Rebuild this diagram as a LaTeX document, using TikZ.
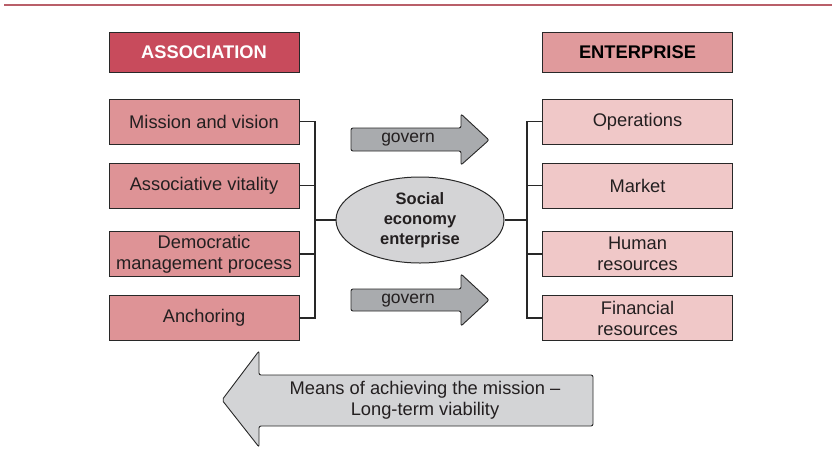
\documentclass[tikz,border=0pt]{standalone}
\usepackage{fontspec}
\setmainfont{Liberation Sans}
\usetikzlibrary{shapes.geometric}
\definecolor{topline}{RGB}{185,95,105}
\definecolor{assochead}{RGB}{200,75,92}
\definecolor{enthead}{RGB}{224,154,156}
\definecolor{leftfill}{RGB}{222,147,150}
\definecolor{rightfill}{RGB}{240,200,200}
\definecolor{ellfill}{RGB}{212,212,214}
\definecolor{govfill}{RGB}{169,171,174}
\definecolor{bigfill}{RGB}{211,212,214}
\definecolor{txt}{RGB}{35,31,32}
\definecolor{edge}{RGB}{40,40,40}
\tikzset{
  basebox/.style={draw=edge, line width=1pt, minimum width=190pt, inner sep=0pt, align=center, text=txt, font=\fontsize{18.3}{21}\selectfont},
  headbox/.style={basebox, minimum height=40pt, font=\bfseries\fontsize{18.3}{21}\selectfont},
  lbox/.style={basebox, minimum height=45pt, fill=leftfill},
  rbox/.style={basebox, minimum height=45pt, fill=rightfill},
  conn/.style={draw=edge, line width=1.1pt},
  govarrow/.style={draw=edge, line width=0.9pt, fill=govfill, rounded corners=2pt},
  bigarrow/.style={draw=edge, line width=0.9pt, fill=bigfill, rounded corners=2pt},
  lbl/.style={text=txt, align=center, inner sep=0pt, font=\fontsize{18.3}{21}\selectfont}
}
\begin{document}
\begin{tikzpicture}[x=1pt,y=-1pt]
\useasboundingbox (0,0) rectangle (832,467);
% top rule
\draw[topline, line width=2.2pt] (4,5) -- (832,5);
% headers
\node[headbox, fill=assochead, text=white] (ah) at (204,52) {ASSOCIATION};
\node[headbox, fill=enthead, text=black] (eh) at (637.5,52) {ENTERPRISE};
% left boxes
\node[lbox] (l1) at (204,121.5) {Mission and vision};
\node[lbox] (l2) at (204,185.5) {Associative vitality};
\node[lbox] (l3) at (204,254) {Democratic\\management process};
\node[lbox] (l4) at (204,318) {Anchoring};
% right boxes
\node[rbox] (r1) at (637.5,121.5) {Operations};
\node[rbox] (r2) at (637.5,185.5) {Market};
\node[rbox] (r3) at (637.5,254) {Human\\resources};
\node[rbox] (r4) at (637.5,318) {Financial\\resources};
% ellipse
\node[ellipse, draw=edge, line width=1pt, fill=ellfill, minimum width=168pt, minimum height=86pt, inner sep=0pt, align=center, text=txt, font=\bfseries\fontsize{16.5}{20}\selectfont] (se) at (420,220) {Social\\economy\\enterprise};
% left bus
\coordinate (lt) at (315,121.5);
\coordinate (lb) at (315,318);
\draw[conn] (l1.east) -- (lt) -- (lb) -- (l4.east);
\draw[conn] (l2.east) -- (l2.east -| lt);
\draw[conn] (l3.east) -- (l3.east -| lt);
\draw[conn] (se.west) -- (se.west -| lt);
% right bus
\coordinate (rt) at (527,121.5);
\coordinate (rb) at (527,318);
\draw[conn] (r1.west) -- (rt) -- (rb) -- (r4.west);
\draw[conn] (r2.west) -- (r2.west -| rt);
\draw[conn] (r3.west) -- (r3.west -| rt);
\draw[conn] (se.east) -- (se.east -| rt);
% govern arrows
\draw[govarrow] (351,128) -- (461,128) -- (461,114) -- (489,140) -- (461,165) -- (461,151) -- (351,151) -- cycle;
\node[lbl, font=\fontsize{17.5}{20}\selectfont] (g1) at (408,140) {govern};
\draw[govarrow] (351,289) -- (461,289) -- (461,274) -- (489,300) -- (461,326) -- (461,311) -- (351,311) -- cycle;
\node[lbl, font=\fontsize{17.5}{20}\selectfont] (g2) at (408,301) {govern};
% big arrow
\draw[bigarrow] (593,375) -- (259,375) -- (259,351) -- (222,400) -- (259,447) -- (259,426) -- (593,426) -- cycle;
\node[lbl] (means) at (425,400.5) {Means of achieving the mission --\\Long-term viability};
\end{tikzpicture}
\end{document}
